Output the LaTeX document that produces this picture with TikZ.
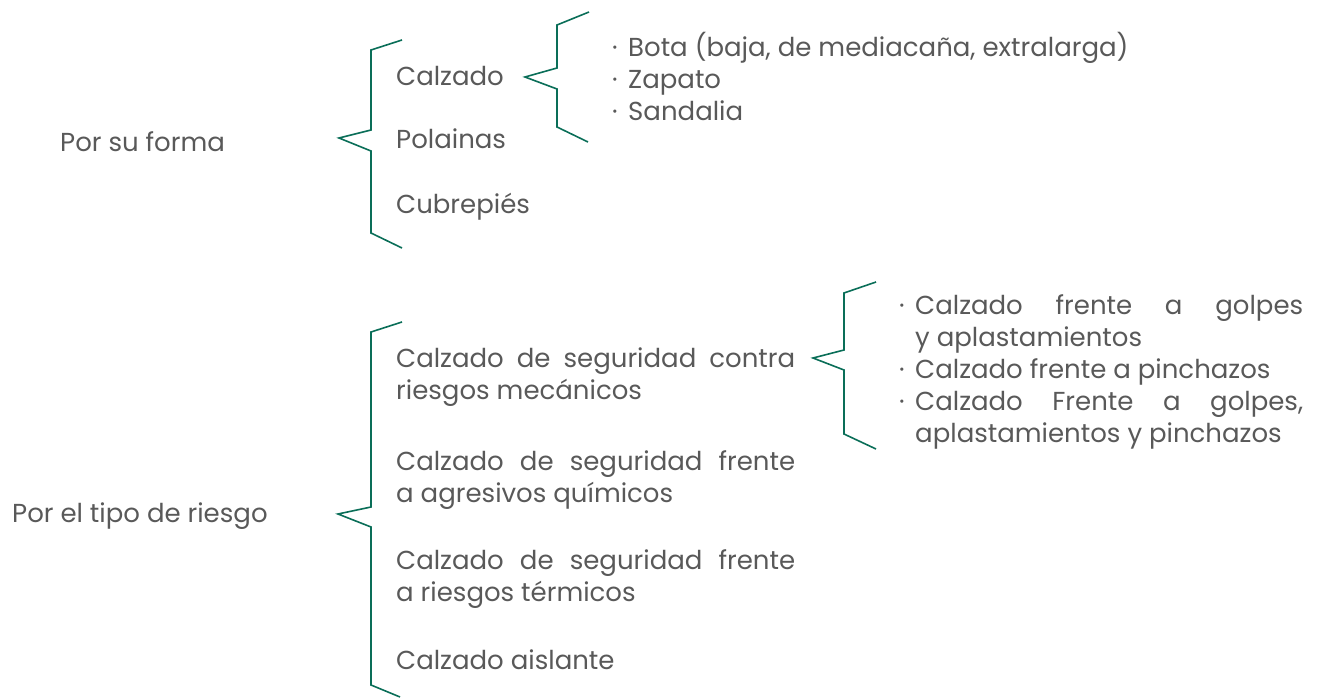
\documentclass[tikz,border=0pt]{standalone}
\usepackage{fontspec}
\setmainfont{Poppins}
\definecolor{brk}{HTML}{0A6E58}
\definecolor{txt}{HTML}{595959}
\tikzset{
  brace/.style={draw=brk, line width=1.6pt, line join=miter},
  lbl/.style={anchor=base west, inner sep=0pt, text=txt, font=\fontsize{26}{32}\selectfont},
  jbox/.style={lbl, align=justify},
}
\begin{document}
\begin{tikzpicture}[x=1pt,y=-1pt]
\useasboundingbox (0,0) rectangle (1317,698);
\hyphenpenalty=10000 \exhyphenpenalty=10000
% top group
\node[lbl] (forma) at (60,151) {Por su forma};
\draw[brace] (402,40) -- (371,50) -- (371,130) -- (339,138) -- (371,151) -- (371,233) -- (402,248);
\node[lbl] (calz) at (396,86) {Calzado};
\node[lbl] (pol) at (396,149) {Polainas};
\node[lbl] (cub) at (396,213) {Cubrepiés};
\draw[brace] (589,12) -- (557,25) -- (557,68) -- (525,77) -- (557,89) -- (557,127) -- (588,142);
\node[lbl] (b1d) at (612,57) {·};
\node[lbl] (b1) at (628,57) {Bota (baja, de mediacaña, extralarga)};
\node[lbl] (b2d) at (612,89) {·};
\node[lbl] (b2) at (628,89) {Zapato};
\node[lbl] (b3d) at (612,121) {·};
\node[lbl] (b3) at (628,121) {Sandalia};
% bottom group
\node[lbl] (riesgo) at (12,522) {Por el tipo de riesgo};
\draw[brace] (402,322) -- (371,332) -- (371,507) -- (338,514) -- (371,527) -- (371,685) -- (400,697);
\node[jbox, text width=399pt] (mec) at (396,367) {Calzado de seguridad contra\linebreak riesgos mecánicos};
\node[jbox, text width=399pt] (qui) at (396,470) {Calzado de seguridad frente\linebreak a agresivos químicos};
\node[jbox, text width=399pt] (ter) at (396,569) {Calzado de seguridad frente\linebreak a riesgos térmicos};
\node[lbl] (ais) at (396,669) {Calzado aislante};
\draw[brace] (876,282) -- (844,293) -- (844,350) -- (813,358) -- (844,370) -- (844,434) -- (876,449);
\node[lbl] (c1d) at (899,314) {·};
\node[jbox, text width=388pt] (c1) at (915,314) {Calzado frente a golpes\linebreak y aplastamientos};
\node[lbl] (c2d) at (899,378) {·};
\node[lbl] (c2) at (915,378) {Calzado frente a pinchazos};
\node[lbl] (c3d) at (899,410) {·};
\node[jbox, text width=388pt] (c3) at (915,410) {Calzado Frente a golpes,\linebreak aplastamientos y pinchazos};
\end{tikzpicture}
\end{document}
